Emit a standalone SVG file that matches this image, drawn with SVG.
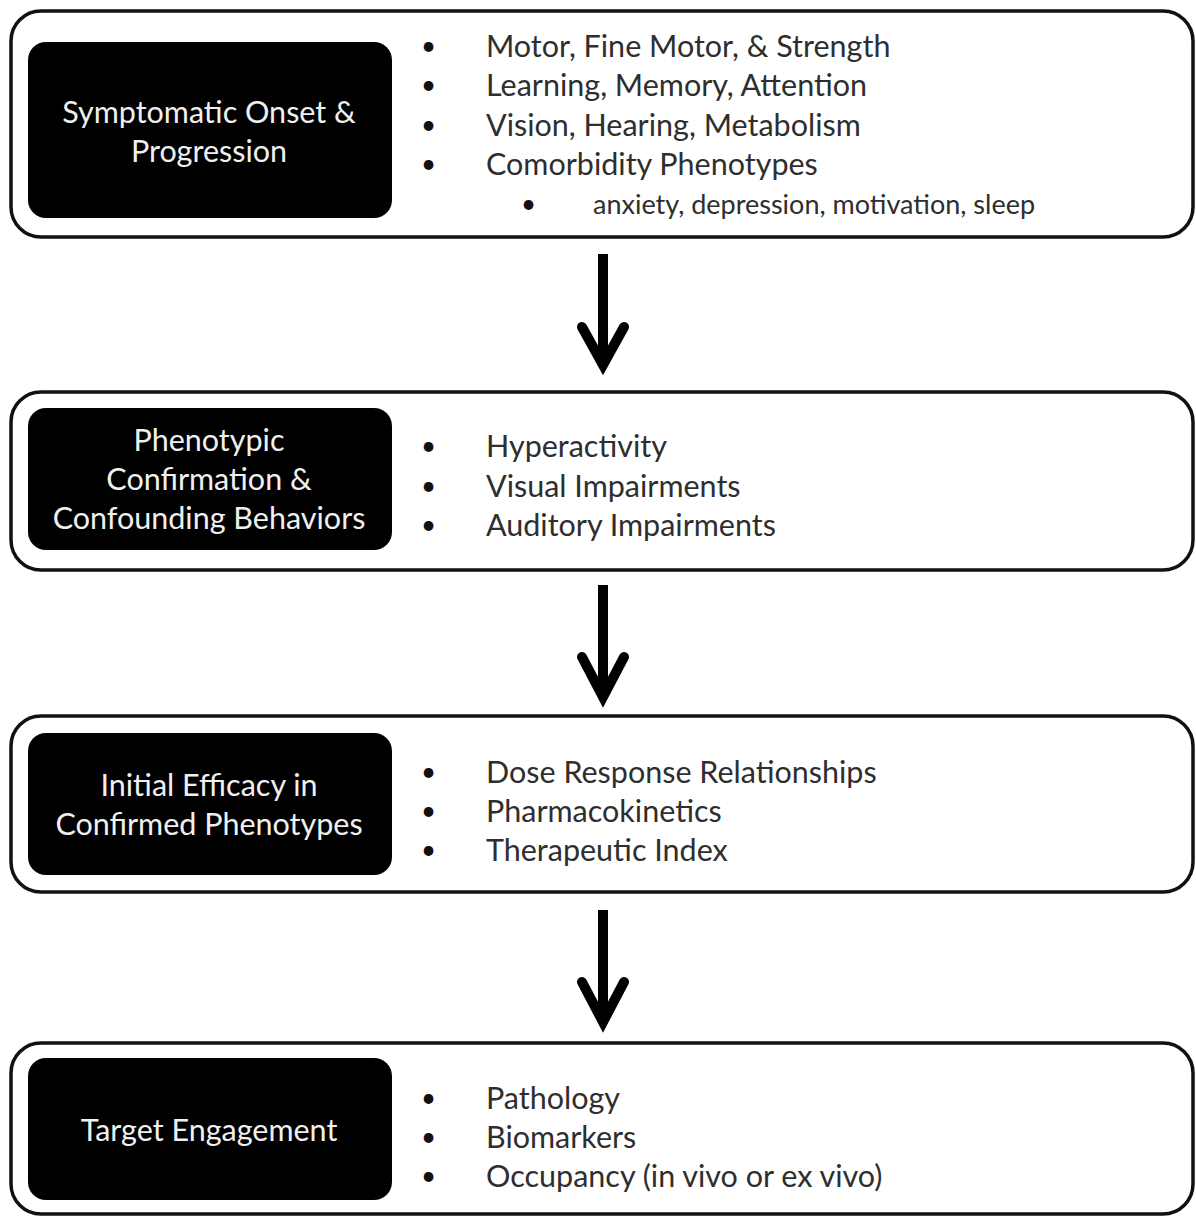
<svg xmlns="http://www.w3.org/2000/svg" width="1196" height="1216" viewBox="0 0 1196 1216">
<style>
.outer{fill:#fff;stroke:#111;stroke-width:3.5}
.inner{fill:#000}
.lbl{font-family:Lato,"Open Sans",sans-serif;font-size:30.5px;fill:#f0f0f0;text-anchor:middle}
.item{font-family:Lato,"Open Sans",sans-serif;font-size:30.5px;fill:#2e2e2e}
.sub{font-family:Lato,"Open Sans",sans-serif;font-size:27px;fill:#2e2e2e}
.bul{font-family:Lato,"Open Sans",sans-serif;font-size:26px;fill:#111}
.arr{fill:none;stroke:#000;stroke-width:10;stroke-linecap:round;stroke-linejoin:miter}
.shaft{fill:none;stroke:#000;stroke-width:10}
</style>
<rect width="1196" height="1216" fill="#fff"/>
<g id="node1">
<rect class="outer" x="11" y="11" width="1182" height="226" rx="30"/>
<rect class="inner" x="28" y="42" width="364" height="176" rx="18"/>
<text class="lbl" x="209" y="123">Symptomatic Onset &amp;</text>
<text class="lbl" x="209" y="162">Progression</text>
<text class="bul" x="421" y="55">•</text><text class="item" x="486" y="57">Motor, Fine Motor, &amp; Strength</text>
<text class="bul" x="421" y="94">•</text><text class="item" x="486" y="96">Learning, Memory, Attention</text>
<text class="bul" x="421" y="134">•</text><text class="item" x="486" y="136">Vision, Hearing, Metabolism</text>
<text class="bul" x="421" y="173">•</text><text class="item" x="486" y="175">Comorbidity Phenotypes</text>
<text class="bul" x="521" y="213">•</text><text class="sub" x="593" y="214">anxiety, depression, motivation, sleep</text>
</g>
<g id="node2">
<rect class="outer" x="11" y="392" width="1182" height="178" rx="30"/>
<rect class="inner" x="28" y="408" width="364" height="142" rx="18"/>
<text class="lbl" x="209" y="451">Phenotypic</text>
<text class="lbl" x="209" y="490">Confirmation &amp;</text>
<text class="lbl" x="209" y="529">Confounding Behaviors</text>
<text class="bul" x="421" y="455">•</text><text class="item" x="486" y="457">Hyperactivity</text>
<text class="bul" x="421" y="495">•</text><text class="item" x="486" y="497">Visual Impairments</text>
<text class="bul" x="421" y="534">•</text><text class="item" x="486" y="536">Auditory Impairments</text>
</g>
<g id="node3">
<rect class="outer" x="11" y="716" width="1182" height="176" rx="30"/>
<rect class="inner" x="28" y="733" width="364" height="142" rx="18"/>
<text class="lbl" x="209" y="796">Initial Efficacy in</text>
<text class="lbl" x="209" y="835">Confirmed Phenotypes</text>
<text class="bul" x="421" y="781">•</text><text class="item" x="486" y="783">Dose Response Relationships</text>
<text class="bul" x="421" y="820">•</text><text class="item" x="486" y="822">Pharmacokinetics</text>
<text class="bul" x="421" y="859">•</text><text class="item" x="486" y="861">Therapeutic Index</text>
</g>
<g id="node4">
<rect class="outer" x="11" y="1043" width="1182" height="171" rx="30"/>
<rect class="inner" x="28" y="1058" width="364" height="142" rx="18"/>
<text class="lbl" x="209" y="1141">Target Engagement</text>
<text class="bul" x="421" y="1107">•</text><text class="item" x="486" y="1109">Pathology</text>
<text class="bul" x="421" y="1146">•</text><text class="item" x="486" y="1148">Biomarkers</text>
<text class="bul" x="421" y="1185">•</text><text class="item" x="486" y="1187">Occupancy (in vivo or ex vivo)</text>
</g>
<g id="connectors">
<line class="shaft" x1="603" y1="254" x2="603" y2="360"/>
<polyline class="arr" points="582,327 603,365 624,327"/>
<line class="shaft" x1="603" y1="585" x2="603" y2="692"/>
<polyline class="arr" points="582,657 603,697 624,657"/>
<line class="shaft" x1="603" y1="910" x2="603" y2="1017"/>
<polyline class="arr" points="582,982 603,1022 624,982"/>
</g>
</svg>
